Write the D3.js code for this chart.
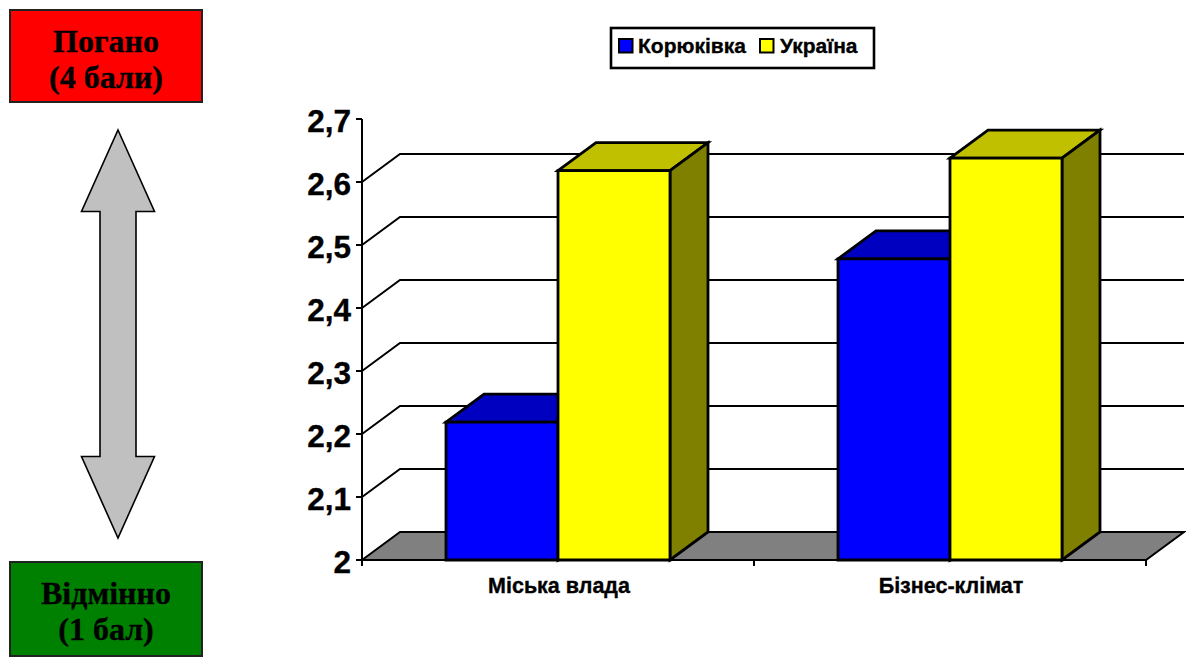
<!DOCTYPE html>
<html><head><meta charset="utf-8">
<script src="https://cdnjs.cloudflare.com/ajax/libs/d3/7.8.5/d3.min.js"></script>
<style>html,body{margin:0;padding:0;background:#fff;overflow:hidden}svg{display:block}
.s{font-family:"Liberation Sans",Arial,sans-serif;font-weight:700;fill:#000;stroke:#000;stroke-width:.35px}
.r{font-family:"Liberation Serif","Times New Roman",serif;font-weight:700;fill:#000;stroke:#000;stroke-width:.35px}</style>
</head><body><svg id="c" width="1186" height="657"></svg>
<script>
const categories = ["Міська влада", "Бізнес-клімат"];
const seriesNames = ["Корюківка", "Україна"];
const koriukivka = [2.219, 2.478];
const ukraine = [2.618, 2.638];
const yTicks = [2, 2.1, 2.2, 2.3, 2.4, 2.5, 2.6, 2.7];
const yTickLabels = ["2", "2,1", "2,2", "2,3", "2,4", "2,5", "2,6", "2,7"];
const frontColors = ["#0000ff", "#ffff00"];
const topColors = ["#0000c0", "#c0c000"];
const sideColors = ["#000080", "#808000"];
const scaleBoxes = [
  {lines: ["Погано", "(4 бали)"], fill: "#ff0000", y: 10, h: 92},
  {lines: ["Відмінно", "(1 бал)"], fill: "#008000", y: 562, h: 94}
];

const svg = d3.select("#c");
const dx = 38, dy = -28;
const x0 = d3.scaleBand().domain(categories).range([362, 1146]);
const x1 = d3.scaleBand().domain(seriesNames).range([84, 308]);
const y = d3.scaleLinear().domain([2, 2.7]).range([560, 119]);
const line = d3.line();
function poly(g, pts, fill, sw) {
  return g.append("path").attr("d", line(pts) + "Z").attr("fill", fill)
    .attr("stroke", "#000").attr("stroke-width", sw || 2.8).attr("stroke-linejoin", "miter");
}

scaleBoxes.forEach(b => {
  svg.append("rect").attr("x", 10).attr("y", b.y).attr("width", 192).attr("height", b.h)
    .attr("fill", b.fill).attr("stroke", "#222").attr("stroke-width", 2);
  b.lines.forEach((t, i) => svg.append("text").attr("class", "r").attr("x", 106)
    .attr("y", b.y + 42 + i * 36).attr("text-anchor", "middle").attr("font-size", 32).text(t));
});
svg.append("path").attr("d", line([[118,130],[154.5,211.5],[136,211.5],[136,456.5],[154.5,456.5],[118,538],[81.5,456.5],[100,456.5],[100,211.5],[81.5,211.5]]) + "Z")
  .attr("fill", "#c0c0c0").attr("stroke", "#000").attr("stroke-width", 1.6);

const xL = x0.range()[0], xR = x0.range()[1];
yTicks.filter(t => t > 2 && t < 2.7).forEach(t => {
  svg.append("path").attr("fill", "none").attr("stroke", "#000").attr("stroke-width", 2)
    .attr("d", line([[xL, y(t)], [xL + dx, y(t) + dy], [xR + dx, y(t) + dy]]));
});
poly(svg, [[xL, y(2)], [xL + dx, y(2) + dy], [xR + dx, y(2) + dy], [xR, y(2)]], "#808080", 2);

const axisLines = svg.append("g").attr("stroke", "#000").attr("stroke-width", 2);
axisLines.append("line").attr("x1", xL).attr("x2", xL).attr("y1", y(2.7)).attr("y2", y(2) + 6);
axisLines.append("line").attr("x1", xL - 6).attr("x2", xR).attr("y1", y(2)).attr("y2", y(2));
yTicks.forEach((t, i) => {
  axisLines.append("line").attr("x1", xL - 6).attr("x2", xL).attr("y1", y(t)).attr("y2", y(t));
  svg.append("text").attr("class", "s").attr("x", 351).attr("y", y(t) + 1.5).attr("dy", "0.36em")
    .attr("text-anchor", "end").attr("font-size", 31.5).text(yTickLabels[i]);
});
const xTickPos = [xL, ...categories.map(c => x0(c) + x0.bandwidth())];
xTickPos.forEach(p => axisLines.append("line").attr("x1", p).attr("x2", p).attr("y1", y(2)).attr("y2", y(2) + 6));
categories.forEach(c => svg.append("text").attr("class", "s").attr("x", x0(c) + x0.bandwidth() / 2 + 1).attr("y", 593)
  .attr("text-anchor", "middle").attr("font-size", 21.5).text(c));

categories.forEach((c, ci) => {
  [koriukivka, ukraine].forEach((vals, si) => {
    const a = x0(c) + x1(seriesNames[si]), w = x1.bandwidth(), b = a + w;
    const top = y(vals[ci]), bot = y(2);
    const g = svg.append("g");
    poly(g, [[a, top], [a + dx, top + dy], [b + dx, top + dy], [b, top]], topColors[si]);
    poly(g, [[b, top], [b + dx, top + dy], [b + dx, bot + dy], [b, bot]], sideColors[si]);
    poly(g, [[a, top], [b, top], [b, bot], [a, bot]], frontColors[si]);
  });
});

svg.append("rect").attr("x", 611).attr("y", 28).attr("width", 263).attr("height", 40)
  .attr("fill", "#fff").attr("stroke", "#000").attr("stroke-width", 2.6);
const legendX = [619, 760], legendTextX = [638, 780];
seriesNames.forEach((n, i) => {
  svg.append("rect").attr("x", legendX[i]).attr("y", 39).attr("width", 13.5).attr("height", 13.5)
    .attr("fill", frontColors[i]).attr("stroke", "#000").attr("stroke-width", 2);
  svg.append("text").attr("class", "s").attr("x", legendTextX[i]).attr("y", 53)
    .attr("font-size", 21).text(n);
});
</script></body></html>
